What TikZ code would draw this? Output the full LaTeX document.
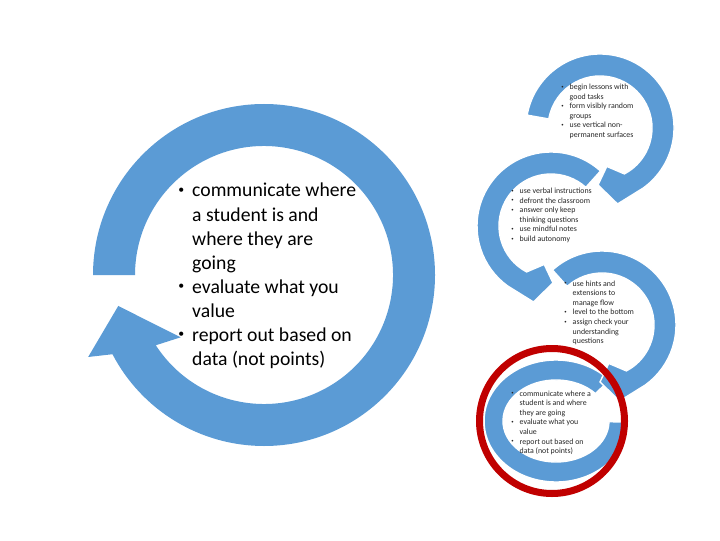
\documentclass[tikz,border=0pt]{standalone}
\usepackage{graphicx}
\usepackage{fontspec}
\setmainfont{Carlito}
\definecolor{arrowblue}{RGB}{91, 155, 213}
\definecolor{darkred}{RGB}{192, 0, 0}
\newcommand{\bigbul}{\makebox[9.9pt][l]{\raisebox{2.2pt}{\scalebox{0.6}{\textbullet}}}}
\newcommand{\smallbul}{\makebox[6pt][l]{\raisebox{0.9pt}{\scalebox{0.6}{\textbullet}}}}
\newcommand{\biglist}[1]{\fontsize{14}{17.07}\selectfont\begin{tabular}[t]{@{}l@{}l@{}}#1\end{tabular}}
\newcommand{\steplist}[1]{\fontsize{5.6}{6.83}\selectfont\begin{tabular}[t]{@{}l@{}l@{}}#1\end{tabular}}

\begin{document}
\begin{tikzpicture}
  [
    x=0.025cm, y=0.025cm,
    bigring/.style={fill=arrowblue},
    ring/.style={fill=arrowblue, draw=white, line width=1pt},
    focus/.style={draw=darkred, line width=0.175cm},
    maintext/.style={anchor=base west, inner sep=0pt},
    steptext/.style={anchor=base west, inner sep=0pt, text=black!85}
  ]
  \useasboundingbox (0,0) rectangle (720,540);

  % big cycle on the left
  \begin{scope}[shift={(264,265)}]
    \fill[bigring] (180:171) arc[start angle=180, end angle=-152.4, radius=171]
      -- (-155:194) -- (-168:149) -- (-143.2:104) -- (-147:129)
      arc[start angle=-147, end angle=180, radius=129] -- cycle;
  \end{scope}
  \node[maintext] (mainlist) at (178,343) {\biglist{%
    \bigbul & communicate where\\ & a student is and\\ & where they are\\ & going\\
    \bigbul & evaluate what you\\ & value\\
    \bigbul & report out based on\\ & data (not points)}};

  % step arrows, last one first so each head sits on the next tail
  \begin{scope}[shift={(556,119)}]
    \draw[ring] (42:72 and 61) arc[start angle=42, end angle=359, x radius=72, y radius=61]
      -- (359:53 and 41) arc[start angle=359, end angle=42, x radius=53, y radius=41] -- cycle;
  \end{scope}
  \begin{scope}[shift={(602,215)}]
    \draw[ring] (132:74) arc[start angle=132, end angle=-54, radius=74]
      -- (-77:78) -- (-92:57) -- (-80:39) -- (-62:52)
      arc[start angle=-62, end angle=132, radius=52] -- cycle;
  \end{scope}
  \begin{scope}[shift={(551,314)}]
    \draw[ring] (48:74) arc[start angle=48, end angle=234, radius=74]
      -- (257:78) -- (272:57) -- (260:39) -- (242:52)
      arc[start angle=242, end angle=48, radius=52] -- cycle;
  \end{scope}
  \begin{scope}[shift={(600,412)}]
    \draw[ring] (170:74) arc[start angle=170, end angle=-54, radius=74]
      -- (-77:78) -- (-92:57) -- (-80:39) -- (-62:52)
      arc[start angle=-62, end angle=170, radius=52] -- cycle;
  \end{scope}

  \draw[focus] (552,119) circle[radius=72.5];

  \node[steptext] (step1) at (561,450.5) {\steplist{%
    \smallbul & begin lessons with\\ & good tasks\\
    \smallbul & form visibly random\\ & groups\\
    \smallbul & use vertical non-\\ & permanent surfaces}};
  \node[steptext] (step2) at (511,346.5) {\steplist{%
    \smallbul & use verbal instructions\\
    \smallbul & defront the classroom\\
    \smallbul & answer only keep\\ & thinking questions\\
    \smallbul & use mindful notes\\
    \smallbul & build autonomy}};
  \node[steptext] (step3) at (564,254) {\steplist{%
    \smallbul & use hints and\\ & extensions to\\ & manage flow\\
    \smallbul & level to the bottom\\
    \smallbul & assign check your\\ & understanding\\ & questions}};
  \node[steptext] (step4) at (511,144) {\steplist{%
    \smallbul & communicate where a\\ & student is and where\\ & they are going\\
    \smallbul & evaluate what you\\ & value\\
    \smallbul & report out based on\\ & data (not points)}};
\end{tikzpicture}
\end{document}
